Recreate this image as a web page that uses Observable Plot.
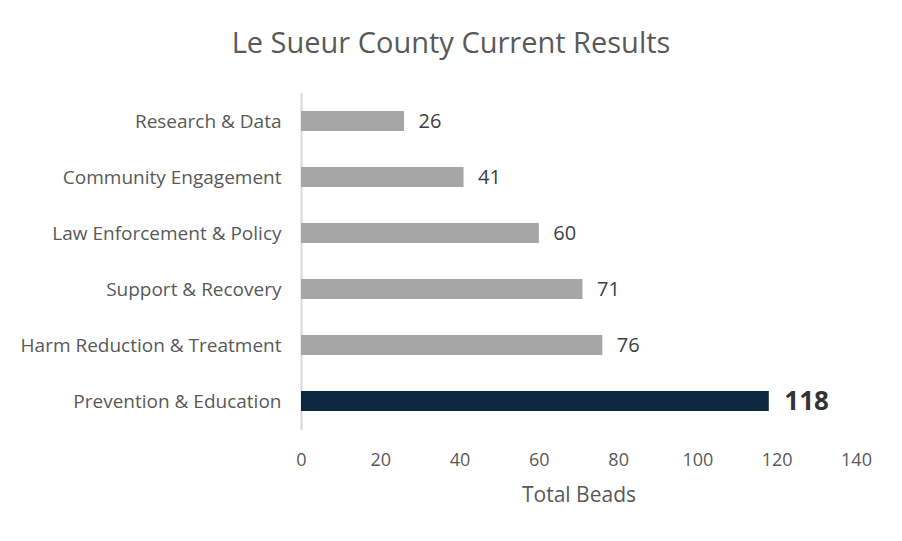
<!DOCTYPE html>
<html>
<head>
<meta charset="utf-8">
<script src="https://cdn.jsdelivr.net/npm/d3@7"></script>
<script src="https://cdn.jsdelivr.net/npm/@observablehq/plot@0.6"></script>
<style>
  body { margin: 0; background: #fff; font-family: "Open Sans", sans-serif; }
  #title { height: 80px; line-height: 84px; text-align: center; font-size: 29px; color: #595959; width: 902px; }
</style>
</head>
<body>
<div id="title">Le Sueur County Current Results</div>
<div id="chart"></div>
<script>
const categories = ["Research & Data", "Community Engagement", "Law Enforcement & Policy", "Support & Recovery", "Harm Reduction & Treatment", "Prevention & Education"];
const values = [26, 41, 60, 71, 76, 118];
const highlight = "Prevention & Education";
const xTicks = [0, 20, 40, 60, 80, 100, 120, 140];

const data = categories.map((c, i) => ({category: c, value: values[i], hi: c === highlight}));

const chart = Plot.plot({
  width: 902,
  height: 461,
  marginLeft: 301,
  marginRight: 46,
  marginTop: 13,
  marginBottom: 111,
  style: {fontFamily: "Open Sans, sans-serif", background: "#fff"},
  x: {domain: [0, 140], ticks: xTicks, label: null},
  y: {domain: categories, paddingInner: 0.64, paddingOuter: 0.32, label: null},
  marks: [
    Plot.ruleX([0], {stroke: "#d9d9d9", strokeWidth: 2}),
    Plot.barX(data, {y: "category", x: "value", fill: d => d.hi ? "#0e2841" : "#a6a6a6"}),
    Plot.text(data.filter(d => !d.hi), {y: "category", x: "value", text: d => String(d.value), dx: 14, textAnchor: "start", fontSize: 20, fill: "#404040"}),
    Plot.text(data.filter(d => d.hi), {y: "category", x: "value", text: d => String(d.value), dx: 15, textAnchor: "start", fontSize: 26, fontWeight: "bold", fill: "#333333"}),
    Plot.axisY({tickSize: 0, tickPadding: 20, fontSize: 19, color: "#595959", label: null}),
    Plot.axisX({ticks: xTicks, tickSize: 0, tickPadding: 23, fontSize: 18, color: "#595959", label: null}),
    Plot.text(["Total Beads"], {frameAnchor: "bottom", dy: 71, fontSize: 21, fill: "#595959"})
  ]
});
document.getElementById("chart").appendChild(chart);
</script>
</body>
</html>
